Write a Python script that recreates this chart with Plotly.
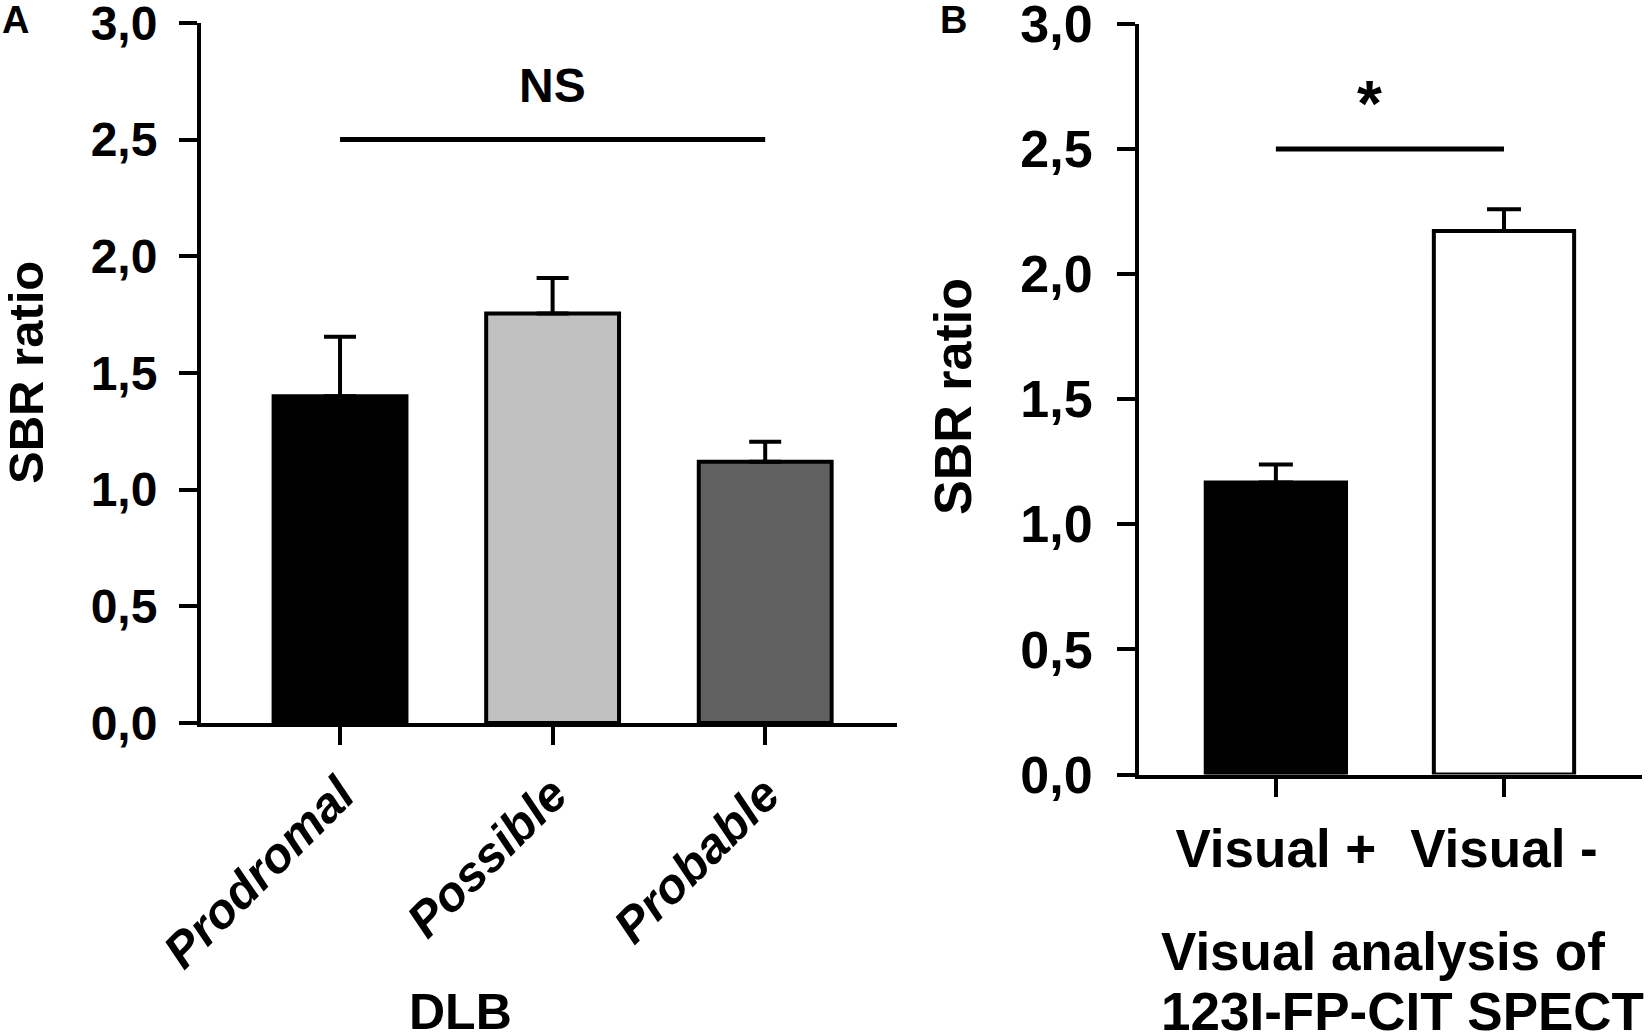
import plotly.graph_objects as go

# Panel A: SBR ratio by DLB stage
dlb_groups = ['Prodromal', 'Possible', 'Probable']
dlb_sbr = [1.40, 1.755, 1.12]
dlb_sem = [0.255, 0.152, 0.085]
dlb_colors = ['#000000', '#c0c0c0', '#606060']

# Panel B: SBR ratio by visual analysis of SPECT
visual_groups = ['Visual +', 'Visual -']
visual_sbr = [1.167, 2.172]
visual_sem = [0.072, 0.087]
visual_colors = ['#000000', '#ffffff']

# significance bars
sig_a_y = 2.5
sig_b_y = 2.5
sig_a_label = 'NS'
sig_b_label = '*'

y_tickvals = [0.0, 0.5, 1.0, 1.5, 2.0, 2.5, 3.0]
y_ticktext = ['0,0', '0,5', '1,0', '1,5', '2,0', '2,5', '3,0']

FONT = 'Liberation Sans, Arial, sans-serif'
W, H = 1650, 1036

fig = go.Figure()

fig.add_trace(go.Bar(
    x=dlb_groups, y=dlb_sbr, width=0.625,
    marker=dict(color=dlb_colors, line=dict(color='black', width=4)),
    error_y=dict(type='data', array=dlb_sem, arrayminus=[0] * len(dlb_sem),
                 symmetric=False, color='black', thickness=4, width=16),
    xaxis='x', yaxis='y', showlegend=False,
))
fig.add_trace(go.Scatter(
    x=[dlb_groups[0], dlb_groups[-1]], y=[sig_a_y, sig_a_y], mode='lines',
    line=dict(color='black', width=5), xaxis='x', yaxis='y', showlegend=False,
))

fig.add_trace(go.Bar(
    x=visual_groups, y=visual_sbr, width=0.615,
    marker=dict(color=visual_colors, line=dict(color='black', width=4)),
    error_y=dict(type='data', array=visual_sem, arrayminus=[0] * len(visual_sem),
                 symmetric=False, color='black', thickness=4, width=17),
    xaxis='x2', yaxis='y2', showlegend=False,
))
fig.add_trace(go.Scatter(
    x=[visual_groups[0], visual_groups[-1]], y=[sig_b_y, sig_b_y], mode='lines',
    line=dict(color='black', width=5), xaxis='x2', yaxis='y2', showlegend=False,
))

axis_common = dict(
    showline=True, linecolor='black', linewidth=4,
    ticks='outside', ticklen=18, tickwidth=4, tickcolor='black',
    showgrid=False, zeroline=False, automargin=False,
    ticklabeloverflow='allow',
)

fig.update_layout(
    width=W, height=H,
    margin=dict(l=0, r=0, t=0, b=0),
    paper_bgcolor='white', plot_bgcolor='white',
    xaxis=dict(domain=[201 / W, 897 / W], range=[-0.654, 2.62], anchor='y',
               tickangle=-45, ticklabelstandoff=1,
               tickfont=dict(family=FONT, size=49, color='black', weight='bold', style='italic'),
               **axis_common),
    yaxis=dict(domain=[(H - 723) / H, (H - 22.7) / H], range=[0, 3.001], anchor='x',
               tickvals=y_tickvals, ticktext=y_ticktext, ticklabelstandoff=12,
               tickfont=dict(family=FONT, size=48, color='black', weight='bold'),
               **axis_common),
    xaxis2=dict(domain=[1139 / W, 1642 / W], range=[-0.60, 1.605], anchor='y2',
                ticklabelstandoff=7,
                tickfont=dict(family=FONT, size=53, color='black', weight='bold'),
                **axis_common),
    yaxis2=dict(domain=[(H - 774.5) / H, (H - 23.5) / H], range=[0, 3.001], anchor='x2',
                tickvals=y_tickvals, ticktext=y_ticktext, ticklabelstandoff=14,
                tickfont=dict(family=FONT, size=52, color='black', weight='bold'),
                **axis_common),
)

def label(text, x, y, size, xref='paper', yref='paper', angle=0, xanchor='center', yanchor='middle'):
    fig.add_annotation(text=text, x=x, y=y, xref=xref, yref=yref, showarrow=False,
                       textangle=angle, xanchor=xanchor, yanchor=yanchor,
                       font=dict(family=FONT, size=size, color='black', weight='bold'))

label('A', 15 / W, 1 - 20 / H, 38)
label('B', 953 / W, 1 - 20 / H, 38)
label('SBR ratio', 26 / W, 1 - 373 / H, 49, angle=-90)
label('SBR ratio', 953 / W, 1 - 397 / H, 52, angle=-90)
label('DLB', 460 / W, 1 - 1012 / H, 50)
label(sig_a_label, dlb_groups[1], 2.73, 48, xref='x', yref='y')
label(sig_b_label, 0.41, 2.68, 64, xref='x2', yref='y2')
label('Visual analysis of', 1159 / W, 1 - 951 / H, 53, xanchor='left')
label('123I-FP-CIT SPECT', 1159 / W, 1 - 1011 / H, 53, xanchor='left')

# drop the default 8px body margin so the figure sits at the page origin
fig.write_html('out.html', config={'displayModeBar': False},
               post_script="document.body.style.margin='0';")
